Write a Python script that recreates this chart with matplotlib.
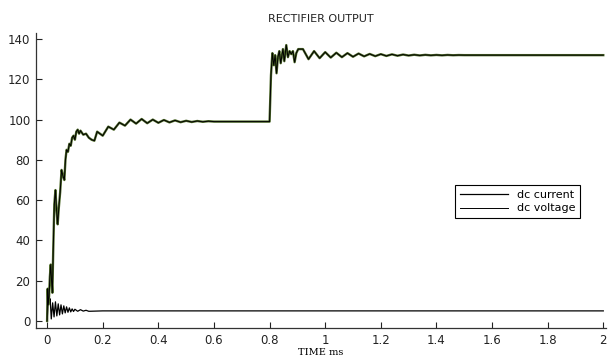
import matplotlib.pyplot as plt

# dc voltage (time in ms, value)
volt_t = [0, 0.002, 0.004, 0.007, 0.010, 0.013, 0.016, 0.019, 0.022, 0.026,
          0.030, 0.034, 0.038, 0.042, 0.047, 0.052, 0.057, 0.062, 0.066, 0.070,
          0.075, 0.080, 0.085, 0.090, 0.095, 0.100, 0.105, 0.110, 0.115, 0.120,
          0.130, 0.140, 0.150, 0.160, 0.170, 0.180, 0.200, 0.220, 0.240, 0.260,
          0.280, 0.300, 0.320, 0.340, 0.360, 0.380, 0.400, 0.420, 0.440, 0.460,
          0.480, 0.500, 0.520, 0.540, 0.560, 0.580, 0.600, 0.800,
          0.805, 0.810, 0.815, 0.820, 0.825, 0.830, 0.835, 0.840, 0.848, 0.853,
          0.860, 0.866, 0.872, 0.878, 0.884, 0.890, 0.896, 0.903, 0.920, 0.940,
          0.960, 0.980, 1.000, 1.020, 1.040, 1.060, 1.080, 1.100, 1.120, 1.140,
          1.160, 1.180, 1.200, 1.220, 1.240, 1.260, 1.280, 1.300, 1.320, 1.340,
          1.360, 1.380, 1.400, 1.420, 1.440, 1.460, 1.480, 1.500, 1.600, 2.000]
volt_v = [0, 16, 8, 12, 22, 28, 20, 14, 35, 58,
          65, 55, 48, 56, 64, 75, 72, 70, 80, 85,
          84, 88, 87, 91, 92, 90, 94, 95, 93, 94.5,
          92.5, 93, 91, 90, 89.5, 94, 92, 96.5, 95, 98.5,
          97, 100, 98, 100.3, 98.2, 100, 98.4, 99.8, 98.6, 99.6,
          98.7, 99.4, 98.8, 99.3, 98.9, 99.2, 99, 99,
          122, 133, 127, 132, 123, 131, 134, 128, 135, 129,
          137, 131, 134, 132.5, 134, 128.5, 133, 135, 135, 130,
          134, 130.5, 133.5, 130.8, 133.2, 131, 133, 131.2, 132.8, 131.4,
          132.6, 131.5, 132.5, 131.6, 132.4, 131.7, 132.3, 131.8, 132.2, 131.85,
          132.15, 131.9, 132.1, 131.9, 132.1, 131.95, 132.05, 132, 132, 132]

# dc current
curr_t = [0, 0.002, 0.005, 0.008, 0.011, 0.015, 0.020, 0.025, 0.030, 0.035,
          0.040, 0.045, 0.050, 0.055, 0.060, 0.065, 0.070, 0.075, 0.080, 0.085,
          0.090, 0.095, 0.100, 0.110, 0.120, 0.130, 0.140, 0.150, 0.200, 2.000]
curr_v = [0, 5, 13, 9, 11, 1, 9, 2, 9.5, 2.5,
          8.5, 3, 8, 3.5, 7.5, 4, 7, 4.3, 6.5, 4.5,
          6, 4.7, 5.8, 4.8, 5.6, 4.9, 5.3, 4.8, 5, 5]

fig = plt.figure(figsize=(6.15, 3.61), dpi=100)
ax = fig.add_axes([0.0585, 0.0914, 0.927, 0.8172])

ax.plot(curr_t, curr_v, color='black', lw=0.9, label='dc current')
ax.plot(volt_t, volt_v, color='#4f6b2a', lw=1.7)
ax.plot(volt_t, volt_v, color='black', lw=0.7, label='dc voltage')

ax.set_xlim(-0.04, 2.01)
ax.set_ylim(-3.5, 143)
ax.set_xticks([0, 0.2, 0.4, 0.6, 0.8, 1, 1.2, 1.4, 1.6, 1.8, 2])
ax.set_xticklabels(['0', '0.2', '0.4', '0.6', '0.8', '1', '1.2', '1.4', '1.6', '1.8', '2'])
ax.set_yticks([0, 20, 40, 60, 80, 100, 120, 140])
ax.tick_params(direction='in', length=4, labelsize=8.5, colors='#222222', pad=4)
ax.spines['top'].set_visible(False)
ax.spines['right'].set_visible(False)
for s in ['left', 'bottom']:
    ax.spines[s].set_linewidth(0.9)
    ax.spines[s].set_color('#333333')

ax.set_title('RECTIFIER OUTPUT', fontsize=8, color='#222222', pad=8)
ax.set_xlabel('TIME ms', fontsize=7, family='DejaVu Serif', labelpad=1)

leg = ax.legend(loc='upper left', bbox_to_anchor=(0.725, 0.505), fontsize=8,
                fancybox=False, edgecolor='black', framealpha=1,
                handlelength=4.3, borderpad=0.45, labelspacing=0.35)
leg.get_frame().set_linewidth(0.8)

fig.savefig('out.png', dpi=100)
